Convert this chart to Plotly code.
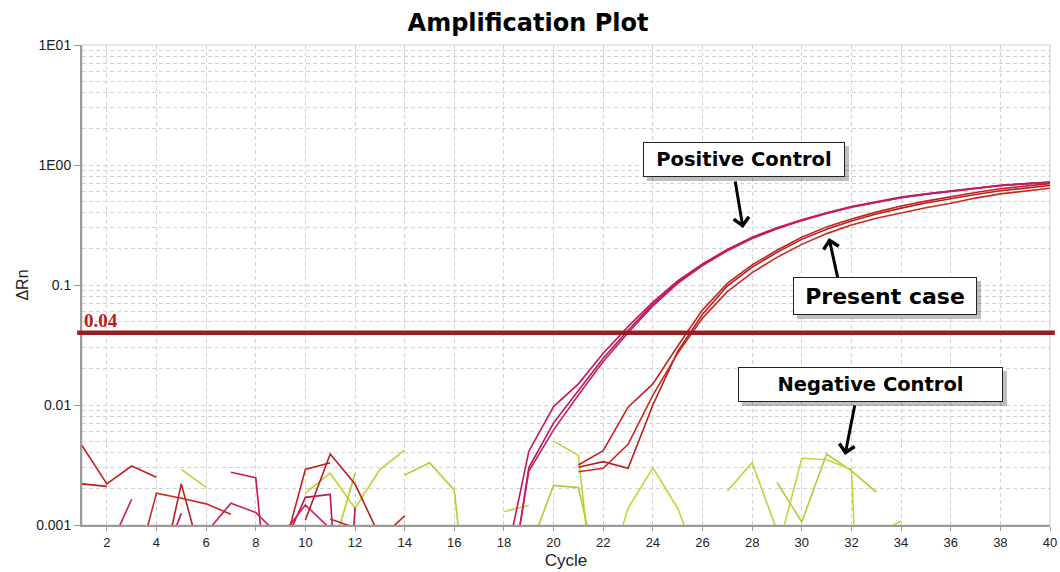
import math
import plotly.graph_objects as go

cycles = list(range(1, 41))

positive_1 = [None, 0.00057, 0.00164, None, None, None, 0.00275, 0.00248, 0.00002, None,
              0.000001, 0.0014, None, None, None, None, None, 0.00042, 0.0041, 0.0097,
              0.0150, 0.027, 0.045, 0.072, 0.108, 0.150, 0.198, 0.25, 0.30, 0.35,
              0.40, 0.45, 0.495, 0.54, 0.575, 0.61, 0.645, 0.677, 0.70, 0.72]
positive_2 = [None, None, None, 0.00036, 0.00125, None, None, None, 0.00059, 0.0017,
              0.0018, 0.000001, None, None, None, None, None, 0.00013, 0.0030, 0.0071,
              0.0133, 0.0245, 0.042, 0.069, 0.105, 0.147, 0.195, 0.246, 0.296, 0.346,
              0.396, 0.446, 0.49, 0.535, 0.572, 0.607, 0.642, 0.674, 0.698, 0.718]
positive_3 = [None, None, None, None, None, 0.00086, 0.00152, 0.00127, 0.00079, 0.00147,
              0.00093, None, None, None, None, None, None, 0.00015, 0.0028, 0.0062,
              0.0121, 0.023, 0.040, 0.067, 0.103, 0.145, 0.193, 0.244, 0.294, 0.344,
              0.394, 0.444, 0.488, 0.533, 0.57, 0.605, 0.64, 0.672, 0.696, 0.716]

present_1 = [0.0046, 0.0022, 0.0031, 0.0025, None, None, None, None, 0.0005, 0.0029,
             0.0033, None, None, None, None, None, None, None, None, None,
             0.00316, 0.00416, 0.0096, 0.0150, 0.031, 0.062, 0.103, 0.147, 0.195, 0.25,
             0.305, 0.355, 0.405, 0.455, 0.50, 0.545, 0.59, 0.635, 0.67, 0.70]
present_2 = [0.0022, 0.0021, None, 0.00025, 0.0022, 0.00038, None, None, None, 0.0011,
             0.0039, 0.0022, 0.0008, None, None, None, None, None, None, None,
             0.00303, 0.00337, 0.00297, 0.0100, 0.028, 0.057, 0.098, 0.141, 0.187, 0.24,
             0.292, 0.342, 0.39, 0.437, 0.482, 0.525, 0.568, 0.61, 0.645, 0.675]
present_3 = [None, None, 0.00031, 0.00184, 0.00167, 0.0015, 0.00123, None, None, None,
             0.00112, 0.00095, 0.00077, 0.00119, None, None, None, None, None, None,
             0.00278, 0.00297, 0.0047, 0.0121, 0.027, 0.053, 0.088, 0.127, 0.17, 0.218,
             0.268, 0.316, 0.36, 0.40, 0.44, 0.48, 0.53, 0.575, 0.61, 0.64]

negative_1 = [None, None, None, None, 0.00291, 0.00206, None, None, None, 0.00184,
              0.0027, 0.00138, 0.0029, 0.0042, None, None, None, None, None, 0.005,
              0.0038, 0.000045, None, None, None, None, 0.00192, 0.0033, 0.0009, None,
              None, None, 0.00083, 0.00108, None, None, None, None, None, None]
negative_2 = [None, None, None, None, None, None, None, None, None, None,
              0.00052, 0.0027, None, 0.00261, 0.0033, 0.00195, 0.000023, None, 0.0006, 0.00214,
              0.00205, 0.00026, None, None, None, None, None, None, 0.00227, 0.00106,
              0.0039, 0.00283, 0.00188, None, None, None, None, None, None, None]
negative_3 = [None, None, None, None, None, None, None, None, None, None,
              None, None, None, None, None, None, None, 0.00129, 0.00146, None,
              None, 0.00028, 0.00138, 0.0030, 0.00138, 0.0004, None, None, 0.00058, 0.0036,
              0.0035, 0.0029, 1e-7, None, None, None, None, None, None, None]

threshold = 0.04
threshold_label = "0.04"

x_tickvals = list(range(2, 41, 2))
y_tickvals = [0.001, 0.01, 0.1, 1, 10]
y_ticktext = ["0.001", "0.01", "0.1", "1E00", "1E01"]
y_minorvals = [k * 10.0 ** e for e in range(-3, 1) for k in range(2, 10)]

NEG_COLORS = ["#B9D535", "#AFCF30", "#BCD83A"]
POS_COLORS = ["#C3175C", "#B8155A", "#C61E63"]
PRES_COLORS = ["#C0231E", "#B51F1F", "#C72A22"]

# page geometry: body margin removed by post_script, plot area at x 82..1050, y 45..525
W, H = 1060, 572
PL, PT, PR, PB = 82, 45, 1050, 525
L, T, R, B = PL, PT, W - PR, H - PB
PW, PH = PR - PL, PB - PT


def px_to_paper(px, py):
    return (px - PL) / PW, (PB - py) / PH


fig = go.Figure()

for ys, c in zip([negative_1, negative_2, negative_3], NEG_COLORS):
    fig.add_trace(go.Scatter(x=cycles, y=ys, mode="lines", connectgaps=False,
                             line=dict(color=c, width=1.6), hoverinfo="skip"))
for ys, c in zip([positive_1, positive_2, positive_3], POS_COLORS):
    fig.add_trace(go.Scatter(x=cycles, y=ys, mode="lines", connectgaps=False,
                             line=dict(color=c, width=1.6), hoverinfo="skip"))
for ys, c in zip([present_1, present_2, present_3], PRES_COLORS):
    fig.add_trace(go.Scatter(x=cycles, y=ys, mode="lines", connectgaps=False,
                             line=dict(color=c, width=1.6), hoverinfo="skip"))

GRID = "#d2d2d2"
AXIS = "#9a9a9a"
FONT = "Liberation Sans, Arial, sans-serif"

fig.update_layout(
    width=W, height=H,
    margin=dict(l=L, r=R, t=T, b=B, autoexpand=False),
    paper_bgcolor="white", plot_bgcolor="white",
    showlegend=False,
    title=dict(text="<b>Amplification Plot</b>", x=528 / W, xref="container", xanchor="center",
               y=1 - 23 / H, yref="container", yanchor="middle",
               font=dict(family="DejaVu Sans", size=24, color="black")),
    xaxis=dict(range=[1, 40], tickmode="array", tickvals=x_tickvals, automargin=False,
               ticks="outside", ticklen=4, tickcolor=AXIS, tickwidth=1,
               showline=True, linecolor=AXIS, linewidth=2,
               showgrid=True, gridcolor=GRID, griddash="4px,3px", gridwidth=1,
               zeroline=False,
               tickfont=dict(family=FONT, size=13, color="#222"),
               title=dict(text="Cycle", standoff=6,
                          font=dict(family=FONT, size=17, color="#222"))),
    yaxis=dict(type="log", range=[-3, 1], tickmode="array", tickvals=y_tickvals, ticktext=y_ticktext,
               automargin=False,
               ticks="outside", ticklen=6, tickcolor=AXIS, tickwidth=1,
               showline=True, linecolor=AXIS, linewidth=2,
               showgrid=True, gridcolor=GRID, griddash="4px,3px", gridwidth=1,
               minor=dict(tickmode="array", tickvals=y_minorvals, showgrid=True,
                          gridcolor=GRID, griddash="4px,3px", gridwidth=1, ticks=""),
               zeroline=False,
               tickfont=dict(family=FONT, size=14, color="#222"),
               title=dict(text="ΔRn", standoff=4,
                          font=dict(family=FONT, size=16, color="#222"))),
)

# plot border
fig.add_shape(type="rect", xref="paper", yref="paper", x0=0, x1=1, y0=0, y1=1,
              line=dict(color="#d0d0d0", width=1), layer="below")

# threshold line
fig.add_shape(type="line", xref="paper", yref="y", x0=-0.005, x1=1.005, y0=threshold, y1=threshold,
              line=dict(color="#9C1C21", width=4.5), layer="above")
fig.add_annotation(x=1, y=math.log10(threshold), xref="x", yref="y", xanchor="left", yanchor="bottom",
                   text="<b>" + threshold_label + "</b>", showarrow=False, xshift=0, yshift=0,
                   font=dict(family="Liberation Serif, Times New Roman, serif", size=19, color="#C0161E"))

# callouts: box pixel extents (left, top, right, bottom), arrow tip and tail in page pixels
callouts = [
    dict(text="Positive Control", box=(643, 142, 845, 177), size=19.5,
         tip=(743, 228), tail=(735, 180)),
    dict(text="Present case", box=(793, 277, 977, 315), size=22,
         tip=(829, 238), tail=(838, 279)),
    dict(text="Negative Control", box=(738, 367, 1003, 402), size=19.5,
         tip=(845, 455), tail=(855, 404)),
]
for c in callouts:
    x0, y0, x1, y1 = c["box"]
    sx0, sy1 = px_to_paper(x0 + 4, y1 + 4)
    sx1, sy0 = px_to_paper(x1 + 4, y0 + 4)
    fig.add_shape(type="rect", xref="paper", yref="paper", x0=sx0, x1=sx1, y0=sy1, y1=sy0,
                  fillcolor="rgba(0,0,0,0.25)", line=dict(width=0), layer="above")
for c in callouts:
    tx, ty = px_to_paper(*c["tip"])
    fig.add_annotation(x=tx, y=ty, xref="paper", yref="paper", text="",
                       showarrow=True, arrowhead=4, arrowsize=1, arrowwidth=3, arrowcolor="black",
                       ax=c["tail"][0] - c["tip"][0], ay=c["tail"][1] - c["tip"][1])
for c in callouts:
    x0, y0, x1, y1 = c["box"]
    cx, cy = px_to_paper((x0 + x1) / 2, (y0 + y1) / 2)
    fig.add_annotation(x=cx, y=cy, xref="paper", yref="paper", text="<b>%s</b>" % c["text"],
                       xanchor="center", yanchor="middle",
                       showarrow=False, width=x1 - x0 - 10, height=y1 - y0 - 10,
                       borderpad=4, borderwidth=1,
                       bgcolor="white", bordercolor="#222",
                       font=dict(family="DejaVu Sans", size=c["size"], color="black"))

fig.write_html("out.html",
               config={"displayModeBar": False},
               post_script="document.body.style.margin='0';document.body.style.overflow='hidden';")
